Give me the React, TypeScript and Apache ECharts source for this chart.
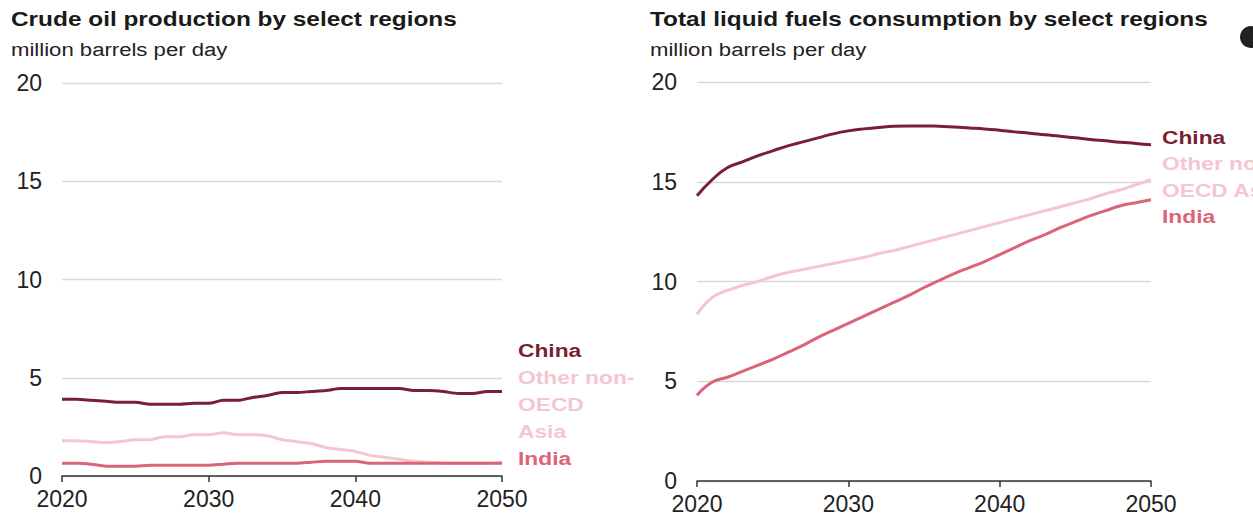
import React, { useEffect, useRef } from "react";
import * as echarts from "echarts";

const years = [
  2020, 2021, 2022, 2023, 2024, 2025, 2026, 2027, 2028, 2029, 2030,
  2031, 2032, 2033, 2034, 2035, 2036, 2037, 2038, 2039, 2040,
  2041, 2042, 2043, 2044, 2045, 2046, 2047, 2048, 2049, 2050,
];

// Crude oil production (million barrels per day)
const prodChina = [
  3.9, 3.9, 3.85, 3.8, 3.75, 3.75, 3.65, 3.65, 3.65, 3.7, 3.7,
  3.85, 3.85, 4.0, 4.1, 4.25, 4.25, 4.3, 4.35, 4.45, 4.45,
  4.45, 4.45, 4.45, 4.35, 4.35, 4.3, 4.2, 4.2, 4.3, 4.3,
];
const prodOtherAsia = [
  1.8, 1.8, 1.75, 1.7, 1.75, 1.85, 1.85, 2.0, 2.0, 2.1, 2.1,
  2.2, 2.1, 2.1, 2.05, 1.85, 1.75, 1.65, 1.45, 1.35, 1.25,
  1.05, 0.95, 0.85, 0.75, 0.7, 0.65, 0.65, 0.65, 0.65, 0.7,
];
const prodIndia = [
  0.65, 0.65, 0.6, 0.5, 0.5, 0.5, 0.55, 0.55, 0.55, 0.55, 0.55,
  0.6, 0.65, 0.65, 0.65, 0.65, 0.65, 0.7, 0.75, 0.75, 0.75,
  0.65, 0.65, 0.65, 0.65, 0.65, 0.65, 0.65, 0.65, 0.65, 0.65,
];

// Total liquid fuels consumption (million barrels per day)
const consChina = [
  14.3, 15.1, 15.7, 16.0, 16.3, 16.55, 16.8, 17.0, 17.2, 17.4, 17.55,
  17.65, 17.72, 17.78, 17.8, 17.8, 17.78, 17.75, 17.7, 17.65, 17.58,
  17.5, 17.43, 17.35, 17.28, 17.2, 17.12, 17.05, 16.98, 16.92, 16.85,
];
const consOtherAsia = [
  8.35, 9.2, 9.55, 9.8, 10.0, 10.25, 10.45, 10.6, 10.75, 10.9, 11.05,
  11.2, 11.4, 11.55, 11.75, 11.95, 12.15, 12.35, 12.55, 12.75, 12.95,
  13.15, 13.35, 13.55, 13.75, 13.95, 14.15, 14.4, 14.6, 14.85, 15.1,
];
const consIndia = [
  4.3, 4.95, 5.2, 5.5, 5.8, 6.1, 6.45, 6.8, 7.2, 7.55, 7.9,
  8.25, 8.6, 8.95, 9.3, 9.7, 10.05, 10.4, 10.7, 11.0, 11.35,
  11.7, 12.05, 12.35, 12.7, 13.0, 13.3, 13.55, 13.8, 13.95, 14.1,
];

const yTicks = [0, 5, 10, 15, 20];
const xTicks = [2020, 2030, 2040, 2050];

const titles = [
  "Crude oil production by select regions",
  "Total liquid fuels consumption by select regions",
];
const unitLabel = "million barrels per day";

const COLOR_CHINA = "#7a1f33";
const COLOR_OTHER = "#f4c6cf";
const COLOR_INDIA = "#dc6479";

const FONT = '"Liberation Sans", Arial, Helvetica, sans-serif';

const pairs = (vals: number[]) => years.map((y, i) => [y, vals[i]]);

function makeText(
  text: string,
  x: number,
  y: number,
  size: number,
  bold: boolean,
  fill: string,
  sx = 1.2
) {
  return {
    type: "text",
    x,
    y,
    scaleX: sx,
    silent: true,
    style: {
      text,
      fontFamily: FONT,
      fontSize: size,
      fontWeight: bold ? "bold" : "normal",
      fill,
      verticalAlign: "middle",
      align: "left",
    },
  };
}

export default function App() {
  const ref = useRef<HTMLDivElement>(null);

  useEffect(() => {
    if (!ref.current) return;
    const chart = echarts.init(ref.current, undefined, { renderer: "svg" });

    const xAxisBase = {
      type: "value",
      min: xTicks[0],
      max: xTicks[xTicks.length - 1],
      interval: 10,
      axisLine: { show: true, lineStyle: { color: "#333", width: 1.5 } },
      axisTick: { show: true, inside: false, length: 6, lineStyle: { color: "#333", width: 1.5 } },
      splitLine: { show: false },
      axisLabel: {
        fontFamily: FONT,
        fontSize: 23,
        color: "#222",
        margin: 11,
        formatter: (v: number) => String(v),
      },
    };
    const yAxisBase = {
      type: "value",
      min: yTicks[0],
      max: yTicks[yTicks.length - 1],
      interval: 5,
      axisLine: { show: false },
      axisTick: { show: false },
      splitLine: { show: true, lineStyle: { color: "#d9d9d9", width: 1.3 } },
      axisLabel: {
        fontFamily: FONT,
        fontSize: 23,
        color: "#222",
        margin: 20,
      },
    };

    const lineSeries = (
      name: string,
      vals: number[],
      color: string,
      idx: number,
      smooth: boolean | number
    ) => ({
      name,
      type: "line",
      xAxisIndex: idx,
      yAxisIndex: idx,
      data: pairs(vals),
      showSymbol: false,
      symbol: "none",
      smooth,
      lineStyle: { color, width: 3 },
      itemStyle: { color },
      z: 3,
    });

    chart.setOption({
      animation: false,
      backgroundColor: "#ffffff",
      grid: [
        { left: 62, top: 83, width: 440, height: 393 },
        { left: 697, top: 82, width: 454, height: 399 },
      ],
      xAxis: [
        { ...xAxisBase, gridIndex: 0 },
        { ...xAxisBase, gridIndex: 1 },
      ],
      yAxis: [
        { ...yAxisBase, gridIndex: 0 },
        { ...yAxisBase, gridIndex: 1 },
      ],
      series: [
        lineSeries("Other non-OECD Asia", prodOtherAsia, COLOR_OTHER, 0, 0.3),
        lineSeries("India", prodIndia, COLOR_INDIA, 0, 0.3),
        lineSeries("China", prodChina, COLOR_CHINA, 0, 0.3),
        lineSeries("Other non-OECD Asia", consOtherAsia, COLOR_OTHER, 1, true),
        lineSeries("India", consIndia, COLOR_INDIA, 1, true),
        lineSeries("China", consChina, COLOR_CHINA, 1, true),
      ],
      graphic: [
        makeText(titles[0], 11, 19, 20, true, "#1a1a1a", 1.22),
        makeText(titles[1], 650, 19, 20, true, "#1a1a1a", 1.22),
        makeText(unitLabel, 11, 50, 18, false, "#222", 1.23),
        makeText(unitLabel, 650, 50, 18, false, "#222", 1.23),
        makeText("China", 518, 350, 19, true, COLOR_CHINA),
        makeText("Other non-", 518, 377, 19, true, COLOR_OTHER),
        makeText("OECD", 518, 404, 19, true, COLOR_OTHER),
        makeText("Asia", 518, 431, 19, true, COLOR_OTHER),
        makeText("India", 518, 458, 19, true, COLOR_INDIA),
        makeText("China", 1162, 137, 19, true, COLOR_CHINA),
        makeText("Other non-", 1162, 163, 19, true, COLOR_OTHER),
        makeText("OECD Asia", 1162, 190, 19, true, COLOR_OTHER),
        makeText("India", 1162, 216, 19, true, COLOR_INDIA),
        {
          type: "circle",
          silent: true,
          shape: { cx: 1251, cy: 37, r: 11 },
          style: { fill: "#222" },
        },
      ],
    });

    return () => chart.dispose();
  }, []);

  return (
    <div
      ref={ref}
      style={{ position: "fixed", left: 0, top: 0, width: 1253, height: 521, background: "#fff" }}
    />
  );
}
